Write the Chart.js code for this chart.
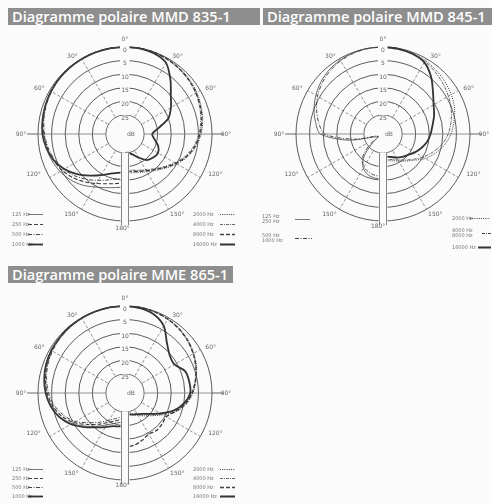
<!DOCTYPE html>
<html lang="fr">
<head>
  <meta charset="UTF-8" />
  <title>Diagrammes polaires MMD 835-1 / MMD 845-1 / MME 865-1</title>
  <script src="https://cdn.jsdelivr.net/npm/chart.js"></script>
  <style>
    body {
      margin: 0;
      width: 492px;
      height: 504px;
      position: relative;
      overflow: hidden;
      background: #fbfbfb;
      font-family: "DejaVu Sans", sans-serif;
    }
    .banner {
      position: absolute;
      background: #8e8e8e;
      color: #fff;
      font: 600 14.6px "Open Sans", sans-serif;
      line-height: 17px;
      height: 17px;
      padding-left: 4px;
      white-space: nowrap;
    }
    canvas { position: absolute; }
    .lg {
      position: absolute;
      font-size: 5px;
      line-height: 5px;
      color: #777;
      white-space: nowrap;
      display: flex;
      align-items: center;
    }
    .lg span { display: inline-block; }
    .lg svg { display: block; }
  </style>
</head>
<body>
  <div class="banner" style="left:8px; top:8px; width:248px;">Diagramme polaire MMD 835-1</div>
  <div class="banner" style="left:263px; top:8px; width:229px;">Diagramme polaire MMD 845-1</div>
  <div class="banner" style="left:8px; top:266px; width:221px;">Diagramme polaire MME 865-1</div>

  <canvas id="c835" width="246" height="240" style="left:0; top:28px;"></canvas>
  <canvas id="c845" width="246" height="240" style="left:258px; top:28px;"></canvas>
  <canvas id="c865" width="246" height="240" style="left:0; top:287px;"></canvas>

  <!-- legends MMD 835-1 -->
  <div class="lg" style="left:12px; top:212px;"><span style="width:16px">125 Hz</span><svg width="15" height="3"><line x1="0" y1="1.5" x2="15" y2="1.5" stroke="#555" stroke-width="0.8"/></svg></div>
  <div class="lg" style="left:12px; top:222px;"><span style="width:16px">250 Hz</span><svg width="15" height="3"><line x1="0" y1="1.5" x2="15" y2="1.5" stroke="#444" stroke-width="1.2" stroke-dasharray="4 2"/></svg></div>
  <div class="lg" style="left:12px; top:232px;"><span style="width:16px">500 Hz</span><svg width="15" height="3"><line x1="0" y1="1.5" x2="15" y2="1.5" stroke="#444" stroke-width="1" stroke-dasharray="4 1.5 1 1.5"/></svg></div>
  <div class="lg" style="left:12px; top:242px;"><span style="width:16px">1000 Hz</span><svg width="15" height="3"><line x1="0" y1="1.5" x2="15" y2="1.5" stroke="#333" stroke-width="1.8"/></svg></div>
  <div class="lg" style="left:193px; top:212px;"><span style="width:27px">2000 Hz</span><svg width="15" height="3"><line x1="0" y1="1.5" x2="15" y2="1.5" stroke="#444" stroke-width="1" stroke-dasharray="1 1.2"/></svg></div>
  <div class="lg" style="left:193px; top:222px;"><span style="width:27px">4000 Hz</span><svg width="15" height="3"><line x1="0" y1="1.5" x2="15" y2="1.5" stroke="#444" stroke-width="0.8" stroke-dasharray="3 1 1 1"/></svg></div>
  <div class="lg" style="left:193px; top:232px;"><span style="width:27px">8000 Hz</span><svg width="15" height="3"><line x1="0" y1="1.5" x2="15" y2="1.5" stroke="#444" stroke-width="1.4" stroke-dasharray="4 2"/></svg></div>
  <div class="lg" style="left:193px; top:242px;"><span style="width:27px">16000 Hz</span><svg width="15" height="3"><line x1="0" y1="1.5" x2="15" y2="1.5" stroke="#333" stroke-width="2"/></svg></div>

  <!-- legends MMD 845-1 -->
  <div class="lg" style="left:262px; top:214px;"><span style="width:33px">125 Hz<br>250 Hz</span><svg width="15" height="3"><line x1="0" y1="1.5" x2="15" y2="1.5" stroke="#555" stroke-width="0.8"/></svg></div>
  <div class="lg" style="left:262px; top:233px;"><span style="width:33px">500 Hz<br>1000 Hz</span><svg width="17" height="3"><line x1="0" y1="1.5" x2="17" y2="1.5" stroke="#444" stroke-width="1" stroke-dasharray="4 1.5 1 1.5"/></svg></div>
  <div class="lg" style="left:452px; top:216px;"><span style="width:18px">2000 Hz</span><svg width="20" height="3"><line x1="0" y1="1.5" x2="20" y2="1.5" stroke="#444" stroke-width="1" stroke-dasharray="1 1.2"/></svg></div>
  <div class="lg" style="left:452px; top:228px;"><span style="width:30px">4000 Hz<br>8000 Hz</span><svg width="10" height="3"><line x1="0" y1="1.5" x2="10" y2="1.5" stroke="#444" stroke-width="1" stroke-dasharray="3 1 1 1"/></svg></div>
  <div class="lg" style="left:452px; top:245px;"><span style="width:26px">16000 Hz</span><svg width="13" height="3"><line x1="0" y1="1.5" x2="13" y2="1.5" stroke="#333" stroke-width="2"/></svg></div>

  <!-- legends MME 865-1 -->
  <div class="lg" style="left:12px; top:467px;"><span style="width:16px">125 Hz</span><svg width="15" height="3"><line x1="0" y1="1.5" x2="15" y2="1.5" stroke="#555" stroke-width="0.8"/></svg></div>
  <div class="lg" style="left:12px; top:476px;"><span style="width:16px">250 Hz</span><svg width="15" height="3"><line x1="0" y1="1.5" x2="15" y2="1.5" stroke="#444" stroke-width="1.2" stroke-dasharray="4 2"/></svg></div>
  <div class="lg" style="left:12px; top:485px;"><span style="width:16px">500 Hz</span><svg width="15" height="3"><line x1="0" y1="1.5" x2="15" y2="1.5" stroke="#444" stroke-width="1" stroke-dasharray="4 1.5 1 1.5"/></svg></div>
  <div class="lg" style="left:12px; top:494px;"><span style="width:16px">1000 Hz</span><svg width="15" height="3"><line x1="0" y1="1.5" x2="15" y2="1.5" stroke="#333" stroke-width="1.8"/></svg></div>
  <div class="lg" style="left:193px; top:467px;"><span style="width:27px">2000 Hz</span><svg width="15" height="3"><line x1="0" y1="1.5" x2="15" y2="1.5" stroke="#444" stroke-width="1" stroke-dasharray="1 1.2"/></svg></div>
  <div class="lg" style="left:193px; top:476px;"><span style="width:27px">4000 Hz</span><svg width="15" height="3"><line x1="0" y1="1.5" x2="15" y2="1.5" stroke="#444" stroke-width="0.8" stroke-dasharray="3 1 1 1"/></svg></div>
  <div class="lg" style="left:193px; top:485px;"><span style="width:27px">8000 Hz</span><svg width="15" height="3"><line x1="0" y1="1.5" x2="15" y2="1.5" stroke="#444" stroke-width="1.4" stroke-dasharray="4 2"/></svg></div>
  <div class="lg" style="left:193px; top:494px;"><span style="width:27px">16000 Hz</span><svg width="15" height="3"><line x1="0" y1="1.5" x2="15" y2="1.5" stroke="#333" stroke-width="2"/></svg></div>

  <script>
    // angle from the front, degrees (each curve is read every 10 degrees, 0..180)
    const ANGLES = [0, 10, 20, 30, 40, 50, 60, 70, 80, 90, 100, 110, 120, 130, 140, 150, 160, 170, 180];
    // rings, attenuation in dB
    const DB_TICKS = [0, 5, 10, 15, 20, 25];

    // MMD 835-1 : left half 125..1000 Hz, right half 2000..16000 Hz (attenuation dB)
    const mmd835_125   = [0, 0, 0, 0.1, 0.2, 0.3, 0.5, 0.8, 1.2, 1.8, 2.6, 3.4, 4.4, 5.8, 7.5, 9.5, 11, 12, 12.5];
    const mmd835_250   = [0, 0, 0, 0.1, 0.2, 0.4, 0.6, 1, 1.5, 2.1, 3, 4, 5.3, 7, 9, 11, 12.5, 13.5, 14];
    const mmd835_500   = [0, 0, 0.1, 0.2, 0.3, 0.5, 0.8, 1.2, 1.7, 2.4, 3.3, 4.5, 6, 8, 10.2, 12.3, 14, 15.3, 16];
    const mmd835_1000  = [0, 0, 0.1, 0.2, 0.3, 0.4, 0.6, 0.9, 1.2, 1.6, 2.6, 4, 6.2, 9, 12, 14.5, 16.5, 17.5, 18];
    const mmd835_2000  = [0, 0, 0.1, 0.3, 0.6, 1, 1.5, 2.2, 3, 4, 5.5, 7.5, 10, 12.5, 14.5, 16, 17, 17.5, 18];
    const mmd835_4000  = [0, 0, 0.2, 0.5, 0.9, 1.4, 2, 2.8, 3.7, 4.8, 6.3, 8.3, 10.8, 13.3, 15.3, 16.8, 17.8, 18.5, 19];
    const mmd835_8000  = [0, 0, 0.1, 0.4, 0.8, 1.2, 1.8, 2.5, 3.3, 4.4, 5.9, 7.9, 10.4, 12.9, 14.9, 16.4, 17.4, 18, 18.5];
    const mmd835_16000 = [0, 0.1, 0.5, 1.8, 6, 10, 12.5, 15, 19.5, 22, 21, 19, 18, 18.5, 19.5, 22, 24, 25, 25];

    // MMD 845-1
    const mmd845_125_250   = [0, 0, 0.2, 0.6, 1.2, 2.2, 3.5, 5, 6.8, 9, 19, 29, 30, 27, 21, 17.5, 16, 15.5, 15.5];
    const mmd845_500_1000  = [0, 0.1, 0.4, 0.9, 1.7, 2.8, 4.2, 6, 8, 10.5, 21, 30, 30, 25, 20, 18, 17, 16.5, 16.5];
    const mmd845_2000      = [0, 0, 0.3, 0.8, 1.5, 2.2, 3, 4, 5.5, 7, 9, 11.5, 14, 17, 19, 20.5, 21.5, 22, 22];
    const mmd845_4000_8000 = [0, 0.1, 0.5, 1.2, 2.2, 3.2, 4.2, 5.3, 6.6, 8, 10, 12.5, 15, 17.5, 19.5, 21, 22, 22.5, 22.5];
    const mmd845_16000     = [0, 0.2, 0.6, 1.6, 4.5, 8, 10.5, 12, 13.5, 14.5, 15.5, 17, 18.5, 20, 21, 22, 23, 23.5, 24];

    // MME 865-1
    const mme865_125   = [0, 0, 0.1, 0.2, 0.3, 0.5, 0.8, 1.3, 2, 3, 4.5, 6.5, 9.5, 13, 16, 18.5, 20, 21, 21];
    const mme865_250   = [0, 0, 0.1, 0.2, 0.4, 0.6, 1, 1.5, 2.3, 3.4, 5, 7.2, 10.3, 14, 17, 19.5, 21, 22, 22];
    const mme865_500   = [0, 0, 0.1, 0.3, 0.5, 0.8, 1.2, 1.8, 2.7, 3.9, 5.6, 8, 11, 15, 18, 20.5, 22, 23, 23];
    const mme865_1000  = [0, 0, 0.1, 0.2, 0.3, 0.5, 0.7, 1.1, 1.8, 2.8, 4.2, 6.2, 9, 12.5, 15.5, 17.5, 19, 19.5, 20];
    const mme865_2000  = [0, 0, 0.2, 0.5, 1, 1.8, 2.8, 4, 5.5, 7, 9, 12, 16, 19, 21, 22.5, 23.5, 24, 24];
    const mme865_4000  = [0, 0, 0.3, 0.7, 1.3, 2.1, 3.1, 4.3, 5.8, 7.5, 9.6, 12.8, 16.5, 19.5, 21.5, 23, 24, 24.5, 24.5];
    const mme865_8000  = [0, 0, 0.2, 0.6, 1.1, 1.9, 3, 4.2, 5.7, 7.3, 9.3, 12.2, 14.5, 14.2, 14, 14.5, 13.5, 12.5, 12];
    const mme865_16000 = [0, 0.3, 1.2, 3.5, 8, 10.5, 11, 8.5, 8, 8, 10, 13, 17, 20, 22, 23, 23.5, 24, 24];

    const STEP = 10;
    const N = 360 / STEP;
    const RADAR_LABELS = Array.from({length: N}, (_, i) => String(i * STEP));
    const BG = '#fbfbfb';
    const INK = '#333';

    // line styles
    const ST = {
      thin:    {borderWidth: 0.8, borderDash: [], borderColor: '#444'},
      dash:    {borderWidth: 1.1, borderDash: [4, 2], borderColor: '#3a3a3a'},
      dashdot: {borderWidth: 0.9, borderDash: [4, 1.5, 1, 1.5], borderColor: '#3a3a3a'},
      thick:   {borderWidth: 1.7, borderDash: [], borderColor: INK},
      dot:     {borderWidth: 1, borderDash: [1, 1.2], borderColor: '#3a3a3a'},
      dashdot2:{borderWidth: 0.8, borderDash: [3, 1, 1, 1], borderColor: '#3a3a3a'},
      dash2:   {borderWidth: 1.3, borderDash: [4, 2], borderColor: '#3a3a3a'},
      thick2:  {borderWidth: 1.8, borderDash: [], borderColor: INK}
    };

    // right half: clockwise from the top, left half: counter-clockwise
    function toRadar(values, side) {
      const out = new Array(N).fill(null);
      values.forEach((v, i) => {
        const idx = side === 'R' ? ANGLES[i] / STEP : (N - ANGLES[i] / STEP) % N;
        out[idx] = -v;
      });
      return out;
    }

    const polarDecor = {
      id: 'polarDecor',
      beforeDatasetsDraw(chart) {
        const s = chart.scales.r, ctx = chart.ctx;
        const R = s.drawingArea;
        const rh = s.getDistanceFromCenterForValue(-25);
        ctx.save();
        ctx.fillStyle = BG;
        ctx.beginPath();
        ctx.arc(s.xCenter, s.yCenter, rh - 0.6, 0, Math.PI * 2);
        ctx.fill();
        ctx.strokeStyle = '#555';
        ctx.lineWidth = 0.9;
        [90, 270].forEach(d => {
          const a = s.getPointPosition(d / STEP, R), b = s.getPointPosition(d / STEP, R + 11);
          ctx.beginPath(); ctx.moveTo(a.x, a.y); ctx.lineTo(b.x, b.y); ctx.stroke();
        });
        ctx.restore();
      },
      afterDatasetsDraw(chart, args, o) {
        const s = chart.scales.r, ctx = chart.ctx;
        const R = s.drawingArea, cx = s.xCenter, cy = s.yCenter;
        const rh = s.getDistanceFromCenterForValue(-25);
        ctx.save();
        ctx.fillStyle = BG;
        ctx.fillRect(cx - 5, cy - R - 2, 9.5, R - rh + 2);
        ctx.fillRect(cx - 4.5, cy + rh - 0.5, 9, R - rh + o.tail);
        ctx.strokeStyle = '#666';
        ctx.lineWidth = 0.8;
        [cx - 3.5, cx + 3.5].forEach(x => {
          ctx.beginPath(); ctx.moveTo(x, cy + rh - 0.5); ctx.lineTo(x, cy + R + o.tail); ctx.stroke();
        });
        ctx.fillStyle = '#666';
        ctx.font = '6px "DejaVu Sans"';
        ctx.textAlign = 'center';
        ctx.textBaseline = 'middle';
        DB_TICKS.forEach(v => {
          ctx.fillText(String(v), cx, cy - s.getDistanceFromCenterForValue(-v) + 3);
        });
        ctx.fillText('dB', cx + 6, cy);
        o.labels.forEach(([txt, deg, dist]) => {
          const p = s.getPointPosition(deg / STEP, dist);
          ctx.fillText(txt, p.x, p.y);
        });
        ctx.restore();
      }
    };

    const ANGLE_LABELS = [
      ['0°', 0, 95], ['30°', 34, 94], ['60°', 62, 97], ['90°', 90, 101], ['120°', 114, 99], ['150°', 147, 96],
      ['30°', 326, 94], ['60°', 298, 97], ['90°', 270, 104], ['120°', 246, 100], ['150°', 213.5, 97]
    ];

    function makeChart(id, curves, tail, label180) {
      const R = 87, cx = 125, cy = 106, W = 246, H = 240;
      new Chart(document.getElementById(id), {
        type: 'radar',
        data: {
          labels: RADAR_LABELS,
          datasets: curves.map(([values, side, st]) => Object.assign({
            data: toRadar(values, side),
            pointRadius: 0,
            fill: false,
            tension: 0.3,
            spanGaps: false
          }, st))
        },
        options: {
          responsive: false,
          animation: false,
          layout: { padding: { left: cx - R, right: W - cx - R, top: cy - R, bottom: H - cy - R } },
          plugins: {
            legend: { display: false },
            tooltip: { enabled: false },
            polarDecor: { tail: tail, labels: ANGLE_LABELS.concat([label180]) }
          },
          scales: {
            r: {
              min: -32,
              max: 0,
              afterBuildTicks: sc => { sc.ticks = [-32].concat(DB_TICKS.slice().reverse().map(v => -v)).map(v => ({value: v})); },
              ticks: { display: false },
              pointLabels: { display: false },
              grid: { circular: true, color: '#4a4a4a', lineWidth: 0.9 },
              angleLines: {
                color: '#777',
                lineWidth: c => (c.index % 3 === 0 ? 0.8 : 0),
                borderDash: c => (c.index % 9 === 0 ? [] : [3, 2])
              }
            }
          }
        },
        plugins: [polarDecor]
      });
    }

    makeChart('c835', [
      [mmd835_125, 'L', ST.thin], [mmd835_250, 'L', ST.dash], [mmd835_500, 'L', ST.dashdot], [mmd835_1000, 'L', ST.thick],
      [mmd835_2000, 'R', ST.dot], [mmd835_4000, 'R', ST.dashdot2], [mmd835_8000, 'R', ST.dash2], [mmd835_16000, 'R', ST.thick2]
    ], 4, ['180°', 181.5, 94]);

    makeChart('c845', [
      [mmd845_125_250, 'L', ST.thin], [mmd845_500_1000, 'L', ST.dashdot],
      [mmd845_2000, 'R', ST.dot], [mmd845_4000_8000, 'R', ST.dashdot2], [mmd845_16000, 'R', ST.thick2]
    ], 4, ['180°', 183, 93]);

    makeChart('c865', [
      [mme865_125, 'L', ST.thin], [mme865_250, 'L', ST.dash], [mme865_500, 'L', ST.dashdot], [mme865_1000, 'L', ST.thick],
      [mme865_2000, 'R', ST.dot], [mme865_4000, 'R', ST.dashdot2], [mme865_8000, 'R', ST.dash2], [mme865_16000, 'R', ST.thick2]
    ], 4, ['180°', 181.5, 92]);
  </script>
</body>
</html>
